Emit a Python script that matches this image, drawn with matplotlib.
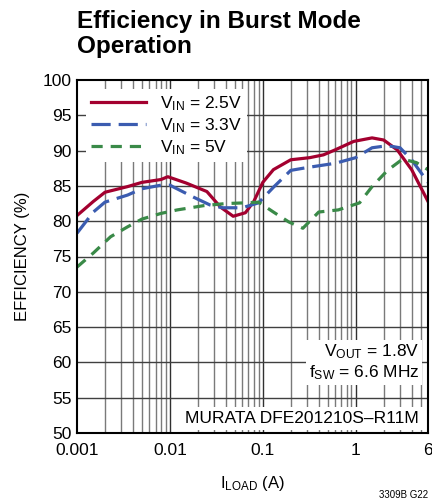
import matplotlib
matplotlib.use('Agg')
import matplotlib.pyplot as plt
from matplotlib.ticker import FixedLocator, NullFormatter

plt.rcParams['font.family'] = ['Liberation Sans', 'DejaVu Sans']
plt.rcParams['mathtext.fontset'] = 'custom'
plt.rcParams['mathtext.rm'] = 'Liberation Sans'
plt.rcParams['mathtext.it'] = 'Liberation Sans'

# ---- data ----
load_25 = [0.001, 0.0015, 0.002, 0.0035, 0.005, 0.008, 0.0095, 0.015, 0.025, 0.035, 0.048,
           0.065, 0.08, 0.1, 0.13, 0.2, 0.32, 0.45, 0.6, 0.95, 1.5, 2.0, 2.8, 4.0, 6.0]
eff_25 = [80.8, 82.8, 84.1, 84.9, 85.5, 85.9, 86.3, 85.4, 84.2, 82.0, 80.7,
          81.2, 82.8, 85.5, 87.3, 88.7, 89.0, 89.4, 90.1, 91.3, 91.8, 91.5, 90.1, 87.3, 82.8]

load_33 = [0.001, 0.0015, 0.002, 0.0035, 0.005, 0.008, 0.01, 0.018, 0.027, 0.037,
           0.06, 0.09, 0.13, 0.2, 0.3, 0.6, 1.0, 1.5, 2.2, 3.0, 4.0, 6.0]
eff_33 = [78.3, 81.3, 82.7, 83.7, 84.6, 85.1, 85.1, 83.4, 82.3, 81.9,
          81.9, 82.6, 84.8, 87.2, 87.6, 88.2, 89.0, 90.4, 90.7, 90.4, 88.7, 85.5]

load_5 = [0.001, 0.0015, 0.0023, 0.0035, 0.005, 0.008, 0.012, 0.023, 0.04, 0.065,
          0.09, 0.13, 0.19, 0.27, 0.4, 0.65, 1.1, 1.5, 2.2, 3.2, 4.5, 6.0]
eff_5 = [73.5, 75.5, 77.8, 79.2, 80.3, 81.1, 81.6, 82.2, 82.5, 82.6,
         82.7, 81.3, 79.9, 79.0, 81.3, 81.6, 82.6, 84.9, 87.2, 88.8, 88.3, 87.3]

x_ticks = [0.001, 0.01, 0.1, 1, 6]
x_labels = ['0.001', '0.01', '0.1', '1', '6']
y_ticks = list(range(50, 101, 5))

fig = plt.figure(figsize=(4.32, 5.04), dpi=100)
ax = fig.add_axes([77/432, 1 - 433/504, 351/432, 353/504])

ax.set_xscale('log')
ax.set_xlim(0.001, 6)
ax.set_ylim(50, 100)

# grid
minors = [m * 10.0**e for e in range(-3, 1) for m in range(2, 10) if m * 10.0**e < 6]
for v in minors:
    ax.axvline(v, color='#7a7a7a', lw=1.0, zorder=1)
for v in [0.01, 0.1, 1]:
    ax.axvline(v, color='#303030', lw=1.0, zorder=1)
for v in y_ticks[1:-1]:
    ax.axhline(v, color='#404040', lw=1.0, zorder=1)

ax.plot(load_25, eff_25, color='#a3002f', lw=2.3, label=r'V$_{\mathrm{IN}}$ = 2.5V', zorder=4)
ax.plot(load_33, eff_33, color='#3b5cb0', lw=2.3, dashes=(6, 2.5), label=r'V$_{\mathrm{IN}}$ = 3.3V', zorder=4)
ax.plot(load_5, eff_5, color='#3a8a48', lw=2.3, dashes=(3.5, 2.5), label=r'V$_{\mathrm{IN}}$ = 5V', zorder=4)

ax.xaxis.set_major_locator(FixedLocator(x_ticks))
ax.set_xticklabels(x_labels)
ax.xaxis.set_minor_locator(FixedLocator(minors))
ax.xaxis.set_minor_formatter(NullFormatter())
ax.set_yticks(y_ticks)
ax.tick_params(axis='both', which='both', direction='in', labelsize=12.5, length=0)
ax.tick_params(axis='x', pad=7)
ax.tick_params(axis='y', pad=4)
for s in ax.spines.values():
    s.set_linewidth(1.5)
    s.set_zorder(6)

leg = ax.legend(loc='upper left', bbox_to_anchor=(0.0, 1.0), fontsize=12.5, frameon=True,
                fancybox=False, handlelength=3.2, handletextpad=0.8, labelspacing=0.2,
                borderpad=0.3, borderaxespad=0.5)
leg.get_frame().set_facecolor('white')
leg.get_frame().set_edgecolor('none')
leg.get_frame().set_alpha(1)
leg.set_zorder(5)

ax.text(0.975, 0.145, 'V$_{\\mathrm{OUT}}$ = 1.8V\nf$_{\\mathrm{SW}}$ = 6.6 MHz', transform=ax.transAxes,
        ha='right', va='bottom', fontsize=12.5, linespacing=1.15, zorder=5,
        bbox=dict(facecolor='white', edgecolor='none', pad=2))
ax.text(0.975, 0.02, 'MURATA DFE201210S\u2013R11M', transform=ax.transAxes,
        ha='right', va='bottom', fontsize=12.5, zorder=5,
        bbox=dict(facecolor='white', edgecolor='none', pad=3))

ax.set_xlabel(r'I$_{\mathrm{LOAD}}$ (A)', fontsize=12, labelpad=12)
ax.set_ylabel('EFFICIENCY (%)', fontsize=12, labelpad=9)

fig.text(77/432, 1 - 10/504, 'Efficiency in Burst Mode\nOperation', ha='left', va='top',
         fontsize=17.5, fontweight='bold', linespacing=1.1)
fig.text(428/432, 1 - 500/504, '3309B G22', ha='right', va='bottom', fontsize=7)

fig.savefig('out.png', dpi=100)
